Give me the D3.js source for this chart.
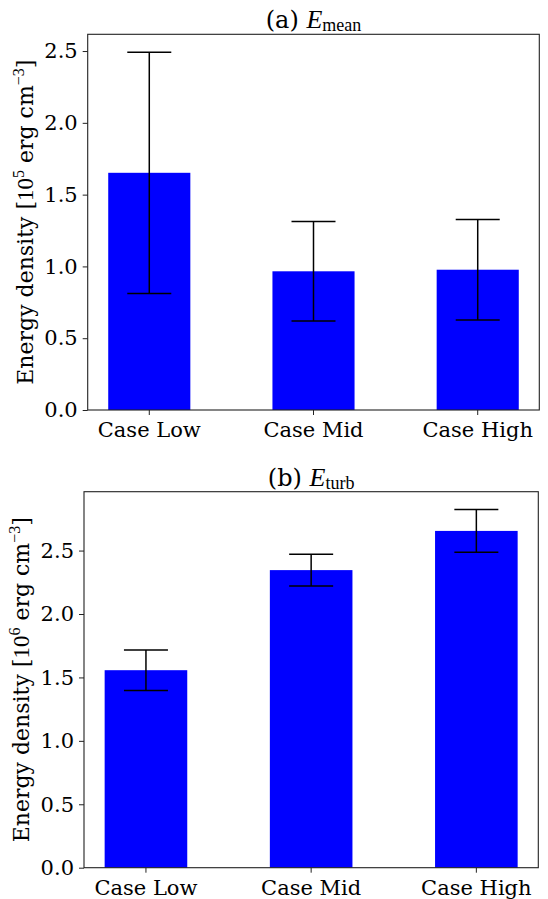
<!DOCTYPE html>
<html>
<head>
<meta charset="utf-8">
<script src="https://cdn.jsdelivr.net/npm/d3@7"></script>
<style>
  html, body { margin: 0; padding: 0; background: #fff; }
  svg { display: block; }
  .tick text { font-family: "DejaVu Serif", serif; font-size: 21px; fill: #000; }
</style>
</head>
<body>
<svg id="chart" width="548" height="899"></svg>
<script>
// Cases shown on both panels
const cases = ["Case Low", "Case Mid", "Case High"];

// (a) mean-field energy density, units of 1e5 erg cm^-3
const meanValues = [1.652, 0.966, 0.977];
const meanErrors = [0.840, 0.346, 0.350];

// (b) turbulent energy density, units of 1e6 erg cm^-3
const turbValues = [1.557, 2.346, 2.655];
const turbErrors = [0.160, 0.126, 0.168];

// y-axis tick labels (same for both panels)
const yTicks = [0.0, 0.5, 1.0, 1.5, 2.0, 2.5];

const panels = [
  { letter: "(a) ", sub: "mean", exp: "5", values: meanValues, errors: meanErrors,
    left: 87.7, right: 539.3, top: 34.3, bottom: 410, titleY: 28, labelX: 33 },
  { letter: "(b) ", sub: "turb", exp: "6", values: turbValues, errors: turbErrors,
    left: 84, right: 538.3, top: 491.7, bottom: 867.7, titleY: 485.5, labelX: 29 }
];

const svg = d3.select("#chart");

panels.forEach(p => {
  const g = svg.append("g");

  const x = d3.scaleBand()
    .domain(cases)
    .range([p.left, p.right])
    .paddingInner(0.5)
    .paddingOuter(0.125);

  const yMax = d3.max(p.values.map((v, i) => v + p.errors[i])) * 1.05;
  const y = d3.scaleLinear().domain([0, yMax]).range([p.bottom, p.top]);

  // bars
  g.selectAll("rect.bar")
    .data(cases)
    .join("rect")
    .attr("class", "bar")
    .attr("x", d => x(d))
    .attr("width", x.bandwidth())
    .attr("y", (d, i) => y(p.values[i]))
    .attr("height", (d, i) => y(0) - y(p.values[i]))
    .attr("fill", "#0000ff");

  // error bars
  const cap = 22;
  const eb = g.selectAll("g.err")
    .data(cases)
    .join("g")
    .attr("class", "err")
    .attr("stroke", "#000")
    .attr("stroke-width", 1.5);
  eb.append("line")
    .attr("x1", d => x(d) + x.bandwidth() / 2)
    .attr("x2", d => x(d) + x.bandwidth() / 2)
    .attr("y1", (d, i) => y(p.values[i] - p.errors[i]))
    .attr("y2", (d, i) => y(p.values[i] + p.errors[i]));
  eb.append("line")
    .attr("x1", d => x(d) + x.bandwidth() / 2 - cap)
    .attr("x2", d => x(d) + x.bandwidth() / 2 + cap)
    .attr("y1", (d, i) => y(p.values[i] + p.errors[i]))
    .attr("y2", (d, i) => y(p.values[i] + p.errors[i]));
  eb.append("line")
    .attr("x1", d => x(d) + x.bandwidth() / 2 - cap)
    .attr("x2", d => x(d) + x.bandwidth() / 2 + cap)
    .attr("y1", (d, i) => y(p.values[i] - p.errors[i]))
    .attr("y2", (d, i) => y(p.values[i] - p.errors[i]));

  // axes
  const yAxis = g.append("g")
    .attr("transform", `translate(${p.left},0)`)
    .call(d3.axisLeft(y).tickValues(yTicks).tickFormat(d3.format(".1f")).tickSize(5).tickPadding(5));
  const xAxis = g.append("g")
    .attr("transform", `translate(0,${p.bottom})`)
    .call(d3.axisBottom(x).tickSize(5).tickPadding(7));
  [yAxis, xAxis].forEach(a => {
    a.select(".domain").remove();
    a.selectAll(".tick line").attr("stroke", "#222").attr("stroke-width", 1);
  });

  // frame
  g.append("rect")
    .attr("x", p.left).attr("y", p.top)
    .attr("width", p.right - p.left).attr("height", p.bottom - p.top)
    .attr("fill", "none").attr("stroke", "#222").attr("stroke-width", 1.1);

  // title
  const t = g.append("text")
    .attr("x", (p.left + p.right) / 2)
    .attr("y", p.titleY)
    .attr("text-anchor", "middle")
    .attr("font-size", 24)
    .attr("fill", "#000");
  t.append("tspan").attr("font-family", "DejaVu Serif").text(p.letter);
  t.append("tspan").attr("font-family", "Liberation Serif").attr("font-style", "italic").attr("font-size", 26).text("E");
  t.append("tspan").attr("font-family", "Liberation Serif").attr("font-size", 18).attr("dy", 3).text(p.sub);

  // y label
  const lab = g.append("text")
    .attr("transform", `translate(${p.labelX},${(p.top + p.bottom) / 2}) rotate(-90)`)
    .attr("text-anchor", "middle")
    .attr("font-family", "DejaVu Serif")
    .attr("font-size", 22)
    .attr("fill", "#000");
  lab.append("tspan").text("Energy density [");
  lab.append("tspan").attr("font-family", "Liberation Serif").attr("font-size", 23).text("10");
  lab.append("tspan").attr("font-family", "Liberation Serif").attr("font-size", 16).attr("dy", -9).text(p.exp);
  lab.append("tspan").attr("dy", 9).text(" erg cm");
  lab.append("tspan").attr("font-family", "Liberation Serif").attr("font-size", 16).attr("dy", -9).text("\u22123");
  lab.append("tspan").attr("dy", 9).text("]");
});
</script>
</body>
</html>
